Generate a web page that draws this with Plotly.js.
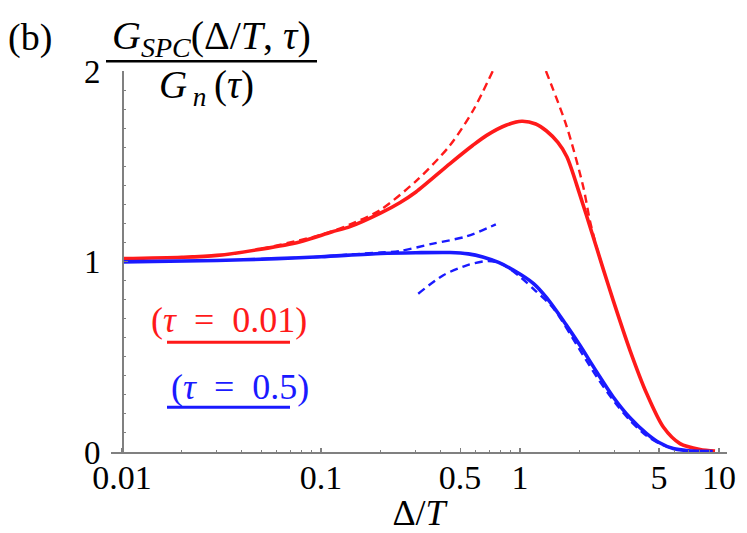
<!DOCTYPE html>
<html>
<head>
<meta charset="utf-8">
<script src="https://cdn.plot.ly/plotly-3.0.1.min.js"></script>
<style>
  html, body { margin: 0; padding: 0; background: #fff; }
  #chart { width: 747px; height: 533px; }
</style>
</head>
<body>
<div id="chart"></div>
<script>
// values (x = Δ/T, y = G_SPC / G_n)
const redSolidX = [0.01, 0.02, 0.03, 0.05, 0.078, 0.113, 0.14, 0.2, 0.25, 0.3, 0.445, 0.58, 0.68, 0.85, 1.02, 1.2, 1.36, 1.55, 1.72, 2.0, 2.3, 2.62, 2.94, 3.57, 4.33, 5.25, 6.37, 8.03, 9.55];
const redSolidY = [1.015, 1.022, 1.032, 1.065, 1.103, 1.155, 1.183, 1.255, 1.31, 1.365, 1.514, 1.61, 1.662, 1.715, 1.736, 1.722, 1.685, 1.625, 1.55, 1.35, 1.15, 0.96, 0.796, 0.534, 0.307, 0.131, 0.044, 0.013, 0.005];

const blueSolidX = [0.01, 0.03, 0.06, 0.1, 0.2, 0.3, 0.445, 0.55, 0.65, 0.78, 0.925, 1.17, 1.36, 1.7, 2.0, 2.43, 2.94, 3.57, 4.33, 5.0, 5.89, 7.0, 9.3];
const blueSolidY = [0.998, 1.005, 1.015, 1.025, 1.042, 1.046, 1.047, 1.04, 1.024, 0.995, 0.955, 0.884, 0.81, 0.67, 0.56, 0.42, 0.289, 0.18, 0.097, 0.05, 0.018, 0.007, 0.003];

const redDashLowX = [0.05, 0.1, 0.14, 0.198, 0.303, 0.445, 0.582, 0.73];
const redDashLowY = [1.066, 1.14, 1.195, 1.27, 1.426, 1.61, 1.794, 2.0];

const redDashHighX = [1.35, 1.72, 2.08, 2.25, 2.45, 2.6];
const redDashHighY = [2.0, 1.706, 1.391, 1.21, 1.06, 0.97];

const blueDashLowX = [0.05, 0.1, 0.14, 0.2, 0.249, 0.366, 0.54, 0.756];
const blueDashLowY = [1.013, 1.025, 1.037, 1.047, 1.055, 1.094, 1.132, 1.195];

const blueDashHighX = [0.308, 0.412, 0.54, 0.693, 0.8, 1.0, 1.2, 1.47, 2.0, 2.43, 3.0, 3.57, 4.33, 5.0, 6.0];
const blueDashHighY = [0.831, 0.928, 0.98, 1.003, 0.99, 0.92, 0.845, 0.755, 0.535, 0.394, 0.26, 0.166, 0.085, 0.045, 0.015];

const xTickVals = [0.01, 0.1, 0.5, 1, 5, 10];
const xTickText = ['0.01', '0.1', '0.5', '1', '5', '10'];
const xMinorVals = [0.02, 0.03, 0.04, 0.05, 0.06, 0.07, 0.08, 0.09,
                    0.2, 0.3, 0.4, 0.6, 0.7, 0.8, 0.9,
                    2, 3, 4, 6, 7, 8, 9];
const yTickVals = [0, 1, 2];
const yTickText = ['0', '1', '2'];

const RED = '#ff1a1a';
const BLUE = '#1a1aff';
const AXIS = '#808080';
const SERIF = 'Liberation Serif, Times New Roman, serif';

// plot box in page pixels
const BOX = { left: 111, right: 727, top: 70.7, bottom: 451.7 };
const px = x => (x - BOX.left) / (BOX.right - BOX.left);
const py = y => (BOX.bottom - y) / (BOX.bottom - BOX.top);

function line(x, y, color, width, dash) {
  return {
    type: 'scatter', mode: 'lines', x: x, y: y,
    line: { color: color, width: width, dash: dash || 'solid', shape: 'spline', smoothing: 0.8 },
    hoverinfo: 'skip',
  };
}

const DASH = '8px,5px';
const traces = [
  line(redDashLowX, redDashLowY, RED, 2.4, DASH),
  line(redDashHighX, redDashHighY, RED, 2.4, DASH),
  line(blueDashLowX, blueDashLowY, BLUE, 2.4, DASH),
  line(blueDashHighX, blueDashHighY, BLUE, 2.4, DASH),
  line(redSolidX, redSolidY, RED, 3.6),
  line(blueSolidX, blueSolidY, BLUE, 3.6),
];

function text(str, x, y, size, color) {
  return {
    xref: 'paper', yref: 'paper', x: px(x), y: py(y),
    xanchor: 'center', yanchor: 'middle', showarrow: false,
    text: str, font: { family: SERIF, size: size, color: color || '#000' },
  };
}

function rule(x0, x1, y, color, width) {
  return {
    type: 'line', xref: 'paper', yref: 'paper',
    x0: px(x0), x1: px(x1), y0: py(y), y1: py(y),
    line: { color: color, width: width },
  };
}

const SP = '\u2002';

const layout = {
  width: 747, height: 533,
  paper_bgcolor: '#fff', plot_bgcolor: '#fff',
  margin: { l: BOX.left, r: 747 - BOX.right, t: BOX.top, b: 533 - BOX.bottom, pad: 0 },
  showlegend: false,
  font: { family: SERIF, size: 33, color: '#000' },
  xaxis: {
    type: 'log',
    range: [-2.0553, 1.0402],
    showgrid: false, zeroline: false,
    showline: true, linecolor: AXIS, linewidth: 1.5,
    tickmode: 'array', tickvals: xTickVals, ticktext: xTickText,
    ticks: 'inside', ticklen: 4, tickcolor: AXIS, tickwidth: 1.2,
    minor: { tickmode: 'array', tickvals: xMinorVals, ticks: 'inside', ticklen: 2.5, tickcolor: AXIS, tickwidth: 1 },
    tickfont: { family: SERIF, size: 34, color: '#000' },
    ticklabelstandoff: -5,
    title: { text: 'Δ/<i>T</i>', font: { family: SERIF, size: 36 }, standoff: 10 },
  },
  yaxis: {
    range: [0, 2],
    anchor: 'free', position: px(122),
    showgrid: false, zeroline: false,
    showline: true, linecolor: AXIS, linewidth: 1.5,
    tickmode: 'array', tickvals: yTickVals, ticktext: yTickText,
    ticks: 'inside', ticklen: 4, tickcolor: AXIS, tickwidth: 1.2,
    minor: { dtick: 0.1, ticks: 'inside', ticklen: 2.5, tickcolor: AXIS, tickwidth: 1 },
    tickfont: { family: SERIF, size: 33, color: '#000' },
    ticklabelstandoff: 15,
  },
  annotations: [
    text('(b)', 30, 37, 38),
    text('<i>G</i><sub><i>SPC</i></sub>(Δ/<i>T</i>,\u00a0<i>τ</i>)', 211, 38, 40),
    text('<i>G</i><sub>\u2009<i>n</i></sub>\u2009(<i>τ</i>)', 206, 87, 39),
    text('(<i>τ</i>' + SP + '=' + SP + '0.01)', 229, 320, 36, RED),
    text('(<i>τ</i>' + SP + '=' + SP + '0.5)', 240, 387, 36, BLUE),
  ],
  shapes: [
    rule(106, 317, 61, '#000', 2.5),
    rule(167, 290, 342, RED, 3),
    rule(167, 290, 407, BLUE, 3),
  ],
};

Plotly.newPlot('chart', traces, layout, { displayModeBar: false, staticPlot: true });
</script>
</body>
</html>
